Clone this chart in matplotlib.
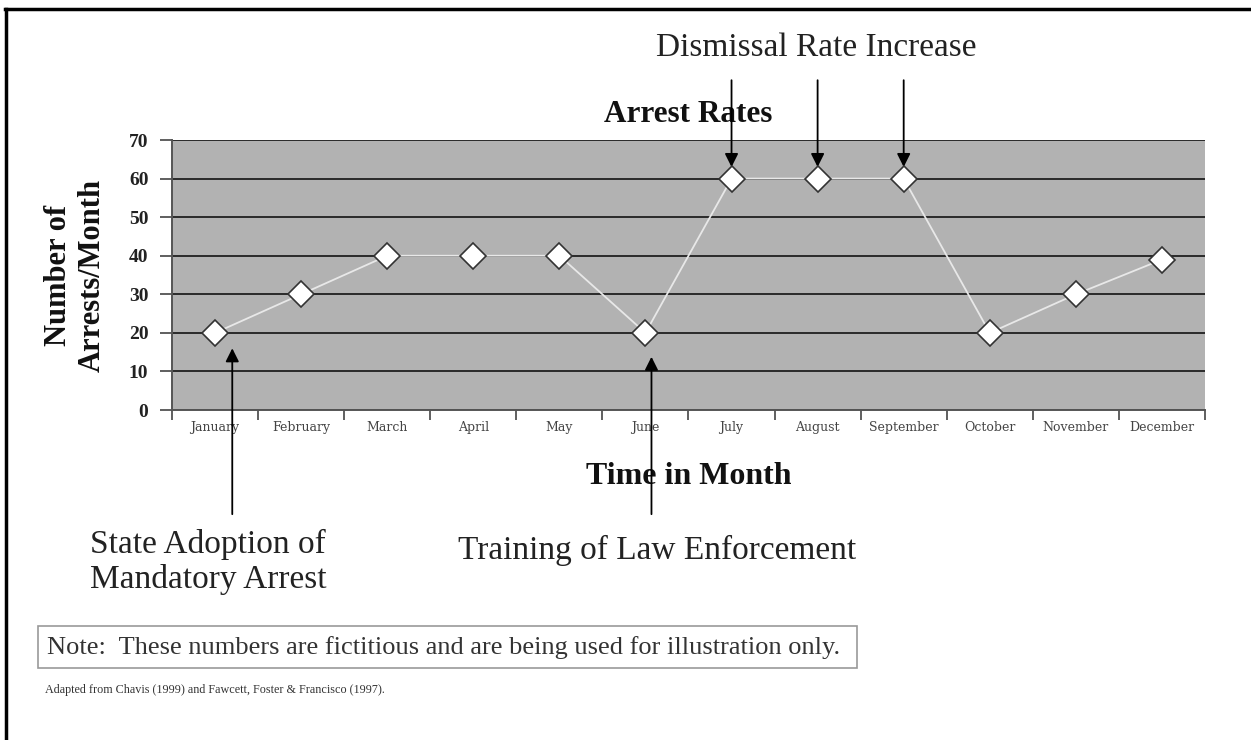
import numpy as np
import matplotlib
matplotlib.use('Agg')
import matplotlib.pyplot as plt
from matplotlib.lines import Line2D
from matplotlib.patches import Rectangle

plt.rcParams['font.family'] = ['Liberation Serif', 'DejaVu Serif']

months = ['January', 'February', 'March', 'April', 'May', 'June', 'July',
          'August', 'September', 'October', 'November', 'December']
arrests = [20, 30, 40, 40, 40, 20, 60, 60, 60, 20, 30, 39]
yticks = [0, 10, 20, 30, 40, 50, 60, 70]

# events pointed at with arrows (month index)
dismissal_months = [6, 7, 8]
adoption_month = 0
training_month = 5

fig = plt.figure(figsize=(12.51, 7.40), dpi=100)
ax = fig.add_axes([0.1375, 0.4459, 0.8257, 0.3649])
ax.set_facecolor('#b2b2b2')

x = np.arange(len(months))
ax.plot(x, arrests, color='#e8e8e8', lw=1.3, zorder=3)
ax.plot(x, arrests, ls='none', marker='D', ms=13.5, mfc='white', mec='#333333',
        mew=1.2, zorder=4)

ax.set_xlim(-0.5, len(months) - 0.5)
ax.set_ylim(0, 70)
ax.set_yticks(yticks)
ax.set_yticklabels([str(v) for v in yticks], fontsize=14, fontweight='bold',
                   color='#222222')
ax.yaxis.grid(True, color='#2a2a2a', lw=1.4)
ax.set_axisbelow(True)
ax.tick_params(axis='y', direction='out', length=9, width=1.2, color='#444444', pad=8)

ax.set_xticks(x)
ax.set_xticklabels(months, fontsize=9, family='DejaVu Serif', color='#444444')
ax.set_xticks(np.arange(-0.5, len(months)), minor=True)
ax.tick_params(axis='x', which='major', length=0, pad=8)
ax.tick_params(axis='x', which='minor', direction='out', length=7, width=1.2,
               color='#444444')

for s in ['top', 'right']:
    ax.spines[s].set_visible(False)
ax.spines['left'].set_color('#555555')
ax.spines['bottom'].set_color('#555555')
ax.spines['left'].set_linewidth(1.4)
ax.spines['bottom'].set_linewidth(1.4)

ax.text(0.5, 1.04, 'Arrest Rates', transform=ax.transAxes, ha='center',
        va='bottom', fontsize=22.5, fontweight='bold', color='#111111')
ax.set_xlabel('Time in Month', fontsize=23, fontweight='bold', labelpad=20,
              color='#111111')
ax.set_ylabel('Number of\nArrests/Month', fontsize=22, fontweight='bold',
              labelpad=16, linespacing=1.2, color='#111111')

arrow = dict(arrowstyle='-|>', color='black', lw=1.3, mutation_scale=20,
             shrinkA=0, shrinkB=0)
for m in dismissal_months:
    ax.annotate('', xy=(m, 63), xytext=(m, 85.5), xycoords='data',
                arrowprops=arrow, annotation_clip=False)
ax.annotate('', xy=(adoption_month + 0.2, 16), xytext=(adoption_month + 0.2, -27),
            arrowprops=arrow, annotation_clip=False)
ax.annotate('', xy=(training_month + 0.07, 13.8), xytext=(training_month + 0.07, -27),
            arrowprops=arrow, annotation_clip=False)

fig.text(656 / 1251, 1 - 48 / 740, 'Dismissal Rate Increase', ha='left',
         va='center', fontsize=24, color='#222222')
fig.text(90 / 1251, 1 - 562 / 740, 'State Adoption of\nMandatory Arrest',
         ha='left', va='center', fontsize=24, color='#222222', linespacing=1.2)
fig.text(458 / 1251, 1 - 550 / 740, 'Training of Law Enforcement', ha='left',
         va='center', fontsize=24, color='#222222')

fig.patches.append(Rectangle((38 / 1251, 1 - 668 / 740), (857 - 38) / 1251,
                             42 / 740, transform=fig.transFigure, fill=False,
                             ec='#999999', lw=1.2))
fig.text(47 / 1251, 1 - 648 / 740,
         'Note:  These numbers are fictitious and are being used for illustration only.',
         ha='left', va='center', fontsize=19, color='#333333')
fig.text(45 / 1251, 1 - 690 / 740,
         'Adapted from Chavis (1999) and Fawcett, Foster & Francisco (1997).',
         ha='left', va='center', fontsize=8.7, color='#333333')

# page frame: top and left edges
fig.add_artist(Line2D([5 / 1251, 1], [1 - 9 / 740, 1 - 9 / 740],
                      transform=fig.transFigure, color='black', lw=2.5))
fig.add_artist(Line2D([6 / 1251, 6 / 1251], [0, 1 - 9 / 740],
                      transform=fig.transFigure, color='black', lw=2.5))

fig.savefig('out.png', dpi=100)
